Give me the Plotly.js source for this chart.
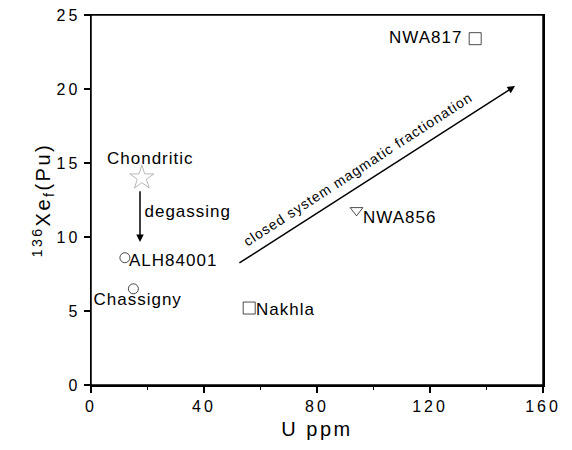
<!DOCTYPE html>
<html><head><meta charset="utf-8">
<script src="https://cdn.plot.ly/plotly-3.0.1.min.js"></script>
<style>
html,body{margin:0;padding:0;background:#fff}
#chart .xtick text, #chart .ytick text {letter-spacing: 3px}
#chart .xtitle, #chart .ytitle {letter-spacing: 2.5px}
#chart .annotation-text {letter-spacing: 1px}
</style>
</head><body><div id="chart" style="width:572px;height:450px"></div>
<script>
var names = ["Chondritic", "ALH84001", "Chassigny", "Nakhla", "NWA856", "NWA817"];
var uPpm = [18, 12, 15, 56, 94, 136];
var xe136 = [14, 8.6, 6.5, 5.2, 11.8, 23.4];
var symbols = ["star-open", "circle-open", "circle-open", "square-open", "triangle-down-open", "square-open"];
var markerColors = ["#9a9a9a", "#000000", "#000000", "#000000", "#000000", "#000000"];
var sizes = [18, 10, 10, 12, 11, 12];
var xTicks = [0, 40, 80, 120, 160];
var yTicks = [0, 5, 10, 15, 20, 25];

var font = "Liberation Sans, Arial, sans-serif";
var traces = [{
  type: "scatter", mode: "markers", x: uPpm, y: xe136, text: names,
  marker: {symbol: symbols, size: sizes, color: markerColors, line: {width: 1}},
  showlegend: false, hoverinfo: "text"
}];

var common = {showgrid: false, zeroline: false, showline: true, linecolor: "#000", linewidth: 1.5,
  tickcolor: "#000", tickwidth: 1.5, ticklen: 6, tickfont: {family: font, size: 16, color: "#000"}};

var layout = {
  width: 572, height: 450,
  margin: {l: 91, r: 29, t: 15, b: 65},
  paper_bgcolor: "#fff", plot_bgcolor: "#fff",
  font: {family: font, color: "#000"},
  xaxis: Object.assign({}, common, {range: [0, 160], tickvals: xTicks, ticks: "outside", mirror: true,
    minor: {dtick: 20, tick0: 0, ticks: "outside", ticklen: 3, tickcolor: "#000", tickwidth: 1.5},
    title: {text: "U ppm", font: {family: font, size: 20, color: "#000"}, standoff: 8}}),
  yaxis: Object.assign({}, common, {range: [0, 25], tickvals: yTicks, ticks: "outside", mirror: true,
    title: {text: "<sup>136</sup>Xe<sub>f</sub>(Pu)", font: {family: font, size: 20, color: "#000"}, standoff: 6}}),
  shapes: [
    {type: "rect", xref: "paper", yref: "paper", x0: 0, x1: 1, y0: 0, y1: 1,
      line: {color: "#000", width: 1.5}, layer: "above"}
  ],
  annotations: [
    {x: 20.9, y: 15.3, text: "Chondritic", showarrow: false, font: {size: 17}, xanchor: "center", yanchor: "middle"},
    {x: 19.8, y: 11.7, text: "degassing", showarrow: false, font: {size: 17}, xanchor: "left", yanchor: "middle"},
    {x: 14.0, y: 8.4, text: "ALH84001", showarrow: false, font: {size: 17}, xanchor: "left", yanchor: "middle"},
    {x: 16.6, y: 5.75, text: "Chassigny", showarrow: false, font: {size: 17}, xanchor: "center", yanchor: "middle"},
    {x: 58.6, y: 5.1, text: "Nakhla", showarrow: false, font: {size: 17}, xanchor: "left", yanchor: "middle"},
    {x: 96.8, y: 11.35, text: "NWA856", showarrow: false, font: {size: 17}, xanchor: "left", yanchor: "middle"},
    {x: 131.0, y: 23.5, text: "NWA817", showarrow: false, font: {size: 17}, xanchor: "right", yanchor: "middle"},
    {x: 94.5, y: 14.6, text: "closed system magmatic fractionation", showarrow: false, textangle: -33,
      font: {size: 14}, xanchor: "center", yanchor: "middle"},
    {x: 17.35, y: 9.66, ax: 17.35, ay: 13.2, axref: "x", ayref: "y", text: "", showarrow: true,
      arrowhead: 2, arrowsize: 1, arrowwidth: 1.5, arrowcolor: "#000"},
    {x: 150.1, y: 20.2, ax: 52.0, ay: 8.18, axref: "x", ayref: "y", text: "", showarrow: true,
      arrowhead: 2, arrowsize: 1, arrowwidth: 1.5, arrowcolor: "#000"}
  ]
};
Plotly.newPlot("chart", traces, layout, {displayModeBar: false, staticPlot: true});
</script></body></html>
